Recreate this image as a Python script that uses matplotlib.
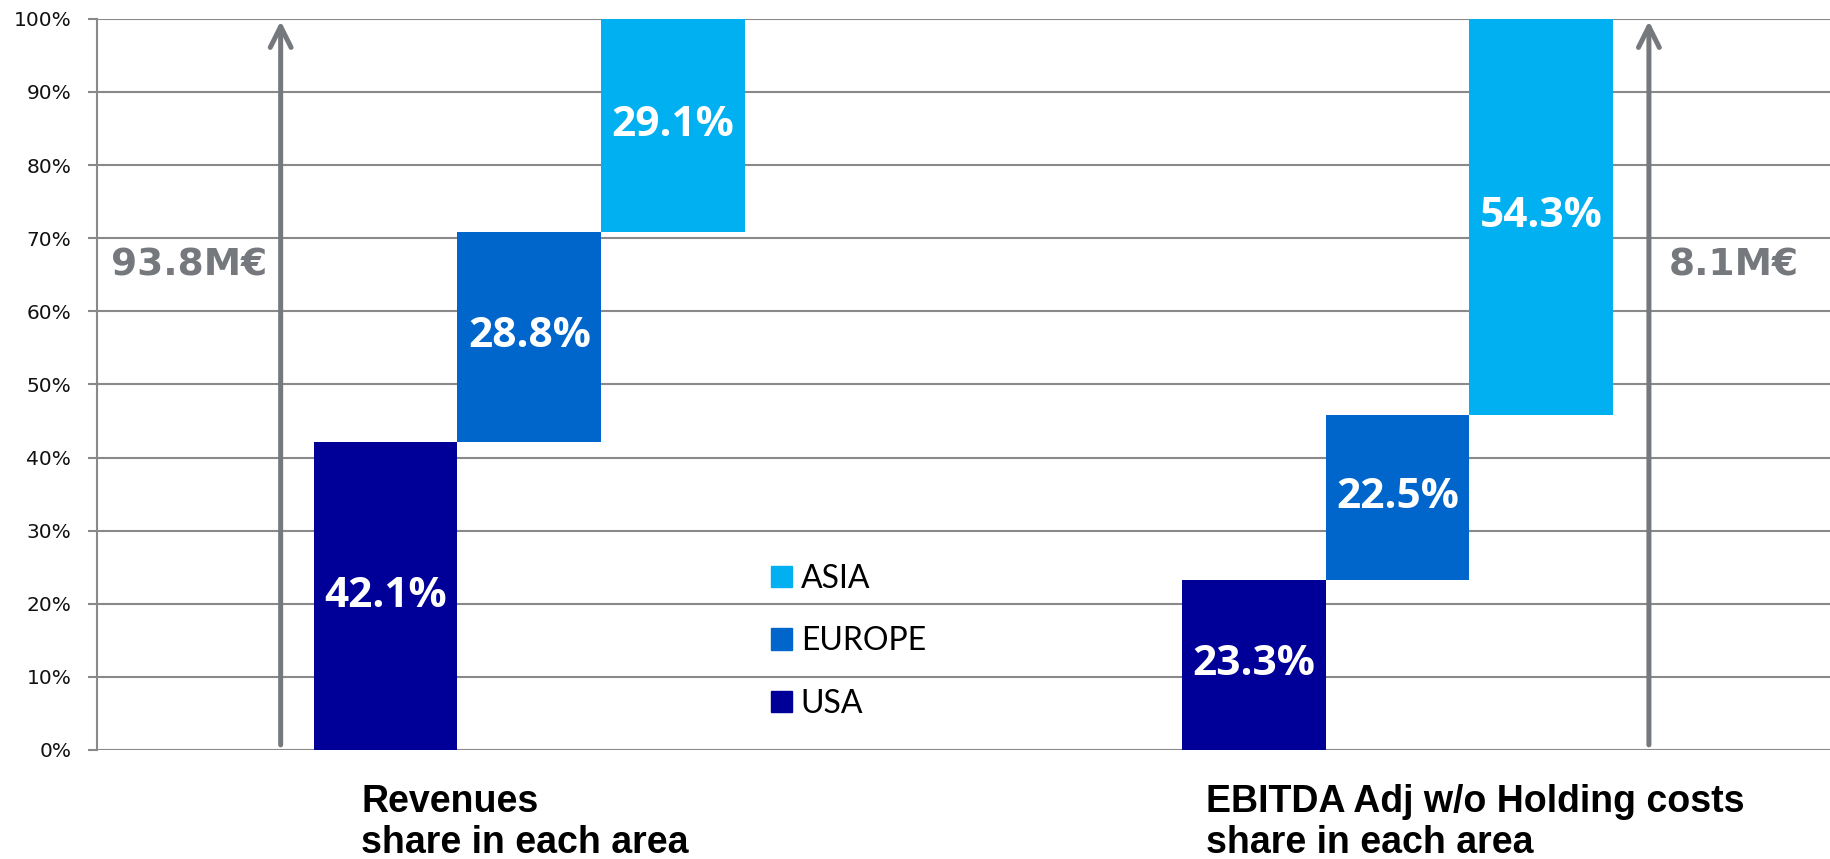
import numpy as np
import matplotlib
matplotlib.use("Agg")
import matplotlib.pyplot as plt
from matplotlib.patches import Patch

# data
regions = ["USA", "EUROPE", "ASIA"]
revenue_share = [42.1, 28.8, 29.1]
ebitda_share = [23.3, 22.5, 54.3]
totals = ["93.8M€", "8.1M€"]
group_titles = ["Revenues\nshare in each area",
                "EBITDA Adj w/o Holding costs\nshare in each area"]
yticks = list(range(0, 101, 10))

region_colors = ["#000099", "#0066CC", "#00B0F0"]
grey = "#898989"
arrow_grey = "#75787C"

fig = plt.figure(figsize=(18.3, 8.59), dpi=100)
ax = fig.add_axes([0.053, 0.1269, 0.947, 0.8512])

group_starts = [0, 6.04]
arrow_x = [-0.73, 8.79]
total_x = [-1.91, 8.93]
title_x = [-0.17, 5.71]

for g, shares in enumerate([revenue_share, ebitda_share]):
    bottoms = np.concatenate([[0], np.cumsum(shares)[:-1]])
    for i, (val, bot) in enumerate(zip(shares, bottoms)):
        x = group_starts[g] + i
        ax.bar(x, val, bottom=bot, width=1.0, color=region_colors[i], zorder=3)
        ax.text(x, bot + val / 2, f"{val:.1f}%", ha="center", va="center",
                color="white", fontsize=30.5, fontweight="bold",
                family="Open Sans", zorder=4)

    # total arrow
    ax.annotate("", xy=(arrow_x[g], 99.7), xytext=(arrow_x[g], 0.7),
                arrowprops=dict(arrowstyle="->,head_length=15,head_width=7.5",
                                mutation_scale=1, lw=3.6, color=arrow_grey,
                                shrinkA=0, shrinkB=0),
                annotation_clip=False, zorder=5)
    ax.text(total_x[g], 66.3, totals[g], ha="left", va="center",
            color=arrow_grey, fontsize=27, fontweight="bold",
            family="DejaVu Sans")

    ax.text(title_x[g], -0.047, group_titles[g], transform=ax.get_xaxis_transform(),
            ha="left", va="top", fontsize=27, fontweight="bold",
            family="Liberation Sans", linespacing=1.17)

ax.set_xlim(-2.008, 10.05)
ax.set_ylim(0, 100)
ax.set_yticks(yticks)
ax.set_yticklabels([f"{t}%" for t in yticks])
ax.set_xticks([])
ax.tick_params(axis="y", length=6.5, width=1.5, color=grey, pad=12,
               labelsize=14.5, labelcolor="#111111")
ax.grid(axis="y", color=grey, lw=1.5, zorder=0)
ax.set_axisbelow(True)
for side in ["top", "right", "bottom"]:
    ax.spines[side].set_visible(False)
ax.spines["left"].set_color(grey)
ax.spines["left"].set_linewidth(1.5)

handles = [Patch(color=region_colors[i]) for i in [2, 1, 0]]
labels = [regions[i] for i in [2, 1, 0]]
leg = ax.legend(handles, labels, loc="upper left", bbox_to_anchor=(2.68, 25.5),
                bbox_transform=ax.transData, frameon=False,
                prop={"family": "Lato", "size": 23},
                handlelength=0.66, handleheight=0.66, handletextpad=0.28,
                labelspacing=1.02, borderpad=0, borderaxespad=0)

fig.savefig("out.png", dpi=100)
